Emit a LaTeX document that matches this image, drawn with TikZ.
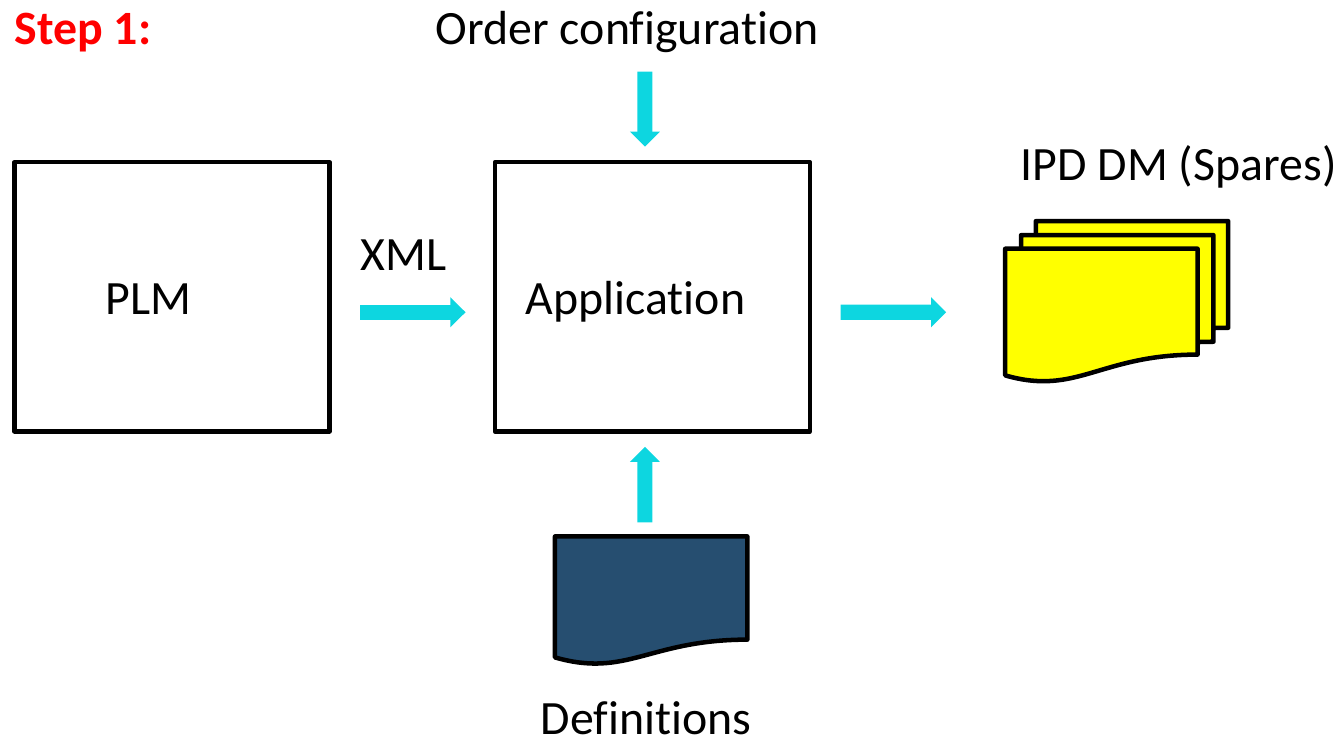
\documentclass[tikz,border=0pt]{standalone}
\usepackage{fontspec}
\setmainfont[RawFeature=-liga]{Carlito}
\usetikzlibrary{positioning}
\usetikzlibrary{calc,arrows.meta}
\definecolor{flowcyan}{RGB}{13,214,224}
\definecolor{docblue}{RGB}{38,78,112}
\definecolor{docyellow}{RGB}{255,255,0}
\tikzset{
  blockbox/.style={draw=black, line width=3.4pt, line join=round, minimum width=8.33cm, minimum height=7.12cm, inner sep=0pt},
  flowarrow/.style={draw=flowcyan, line width=0.4cm, -{Triangle[length=0.4cm,width=0.77cm]}},
  lbl/.style={font=\fontsize{36}{36}\selectfont, inner sep=0pt, anchor=base},
  docpage/.style={draw=black, line width=3.4pt, line join=round},
}
% one page with wavy lower edge: top left corner, fill, right height, left height
\newcommand{\docshape}[4]{%
  \draw[docpage, fill=#2] (#1) -- ($(#1)+(0,-#4)$)
    .. controls ($(#1)+(1.9,-#4-0.55)$) and ($(#1)+(2.5,-#3)$) .. ($(#1)+(5.09,-#3)$)
    -- ($(#1)+(5.09,0)$) -- cycle;
}
\begin{document}
\begin{tikzpicture}
    \useasboundingbox (0,0) rectangle (35.5,19.53);

    \node(plm) [blockbox] at (4.55,11.68) {};
    \node(app) [blockbox] at (17.26,11.68) {};

    \node(plml) [lbl] at (3.92,11.22) {PLM};
    \node(appl) [lbl] at (16.81,11.22) {Application};
    \node(xml) [lbl] at (10.67,12.38) {XML};
    \node(order) [lbl] at (16.59,18.35) {Order configuration};
    \node(defs) [lbl] at (17.09,0.1) {Definitions};
    \node(ipd) [lbl] at (31.18,14.76) {IPD DM (Spares)};
    \node(stepl) [lbl, anchor=base west, text=red, font=\fontsize{36}{36}\selectfont\bfseries] at (0.38,18.36) {Step 1:};

    \coordinate(ipdback) at (27.40,13.68);
    \coordinate(ipdmid) at (27.01,13.31);
    \coordinate(ipdfront) at (26.59,12.95);
    \coordinate(defdoc) at (14.68,5.34);
    \coordinate(ipdin) at (25.03,11.27);

    \docshape{ipdback}{docyellow}{2.82}{3.35}
    \docshape{ipdmid}{docyellow}{2.82}{3.35}
    \docshape{ipdfront}{docyellow}{2.8}{3.35}
    \docshape{defdoc}{docblue}{2.73}{3.2}

    \draw[flowarrow, shorten <=0.76cm, shorten >=0.72cm] ([yshift=-0.41cm]plm.east) -- ([yshift=-0.41cm]app.west);
    \draw[flowarrow, shorten <=0.75cm] ([yshift=-0.41cm]app.east) -- (ipdin);
    \draw[flowarrow, shorten <=0.49cm, shorten >=0.35cm] ([xshift=0.47cm]order.south) -- ([xshift=-0.2cm]app.north);
    \draw[flowarrow, shorten <=0.37cm, shorten >=0.35cm] ([xshift=2.38cm]defdoc) -- ([xshift=-0.2cm]app.south);
  \end{tikzpicture}
\end{document}
